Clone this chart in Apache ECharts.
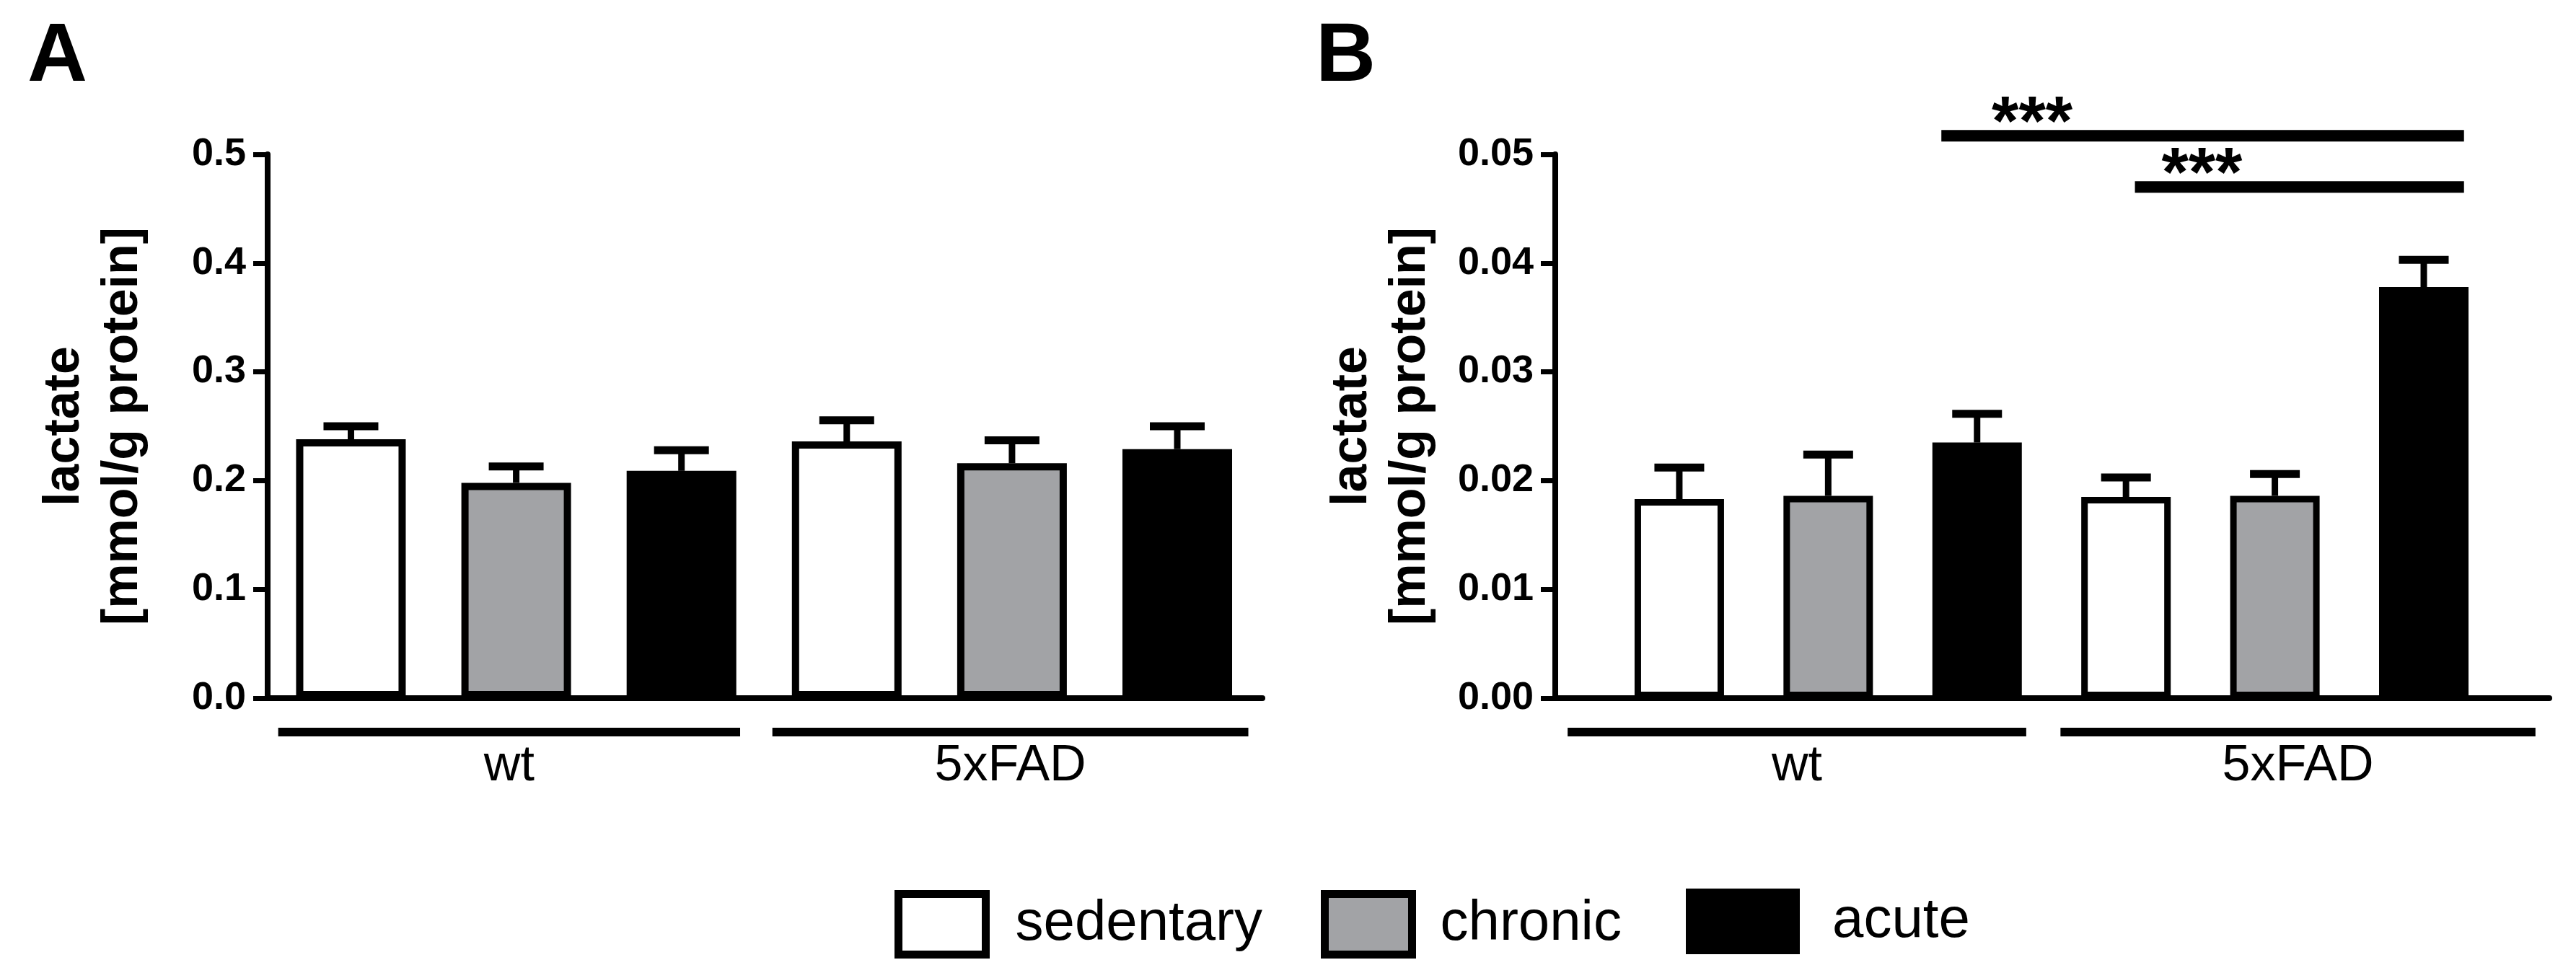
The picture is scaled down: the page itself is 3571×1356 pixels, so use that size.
<!DOCTYPE html>
<html>
<head>
<meta charset="utf-8">
<script src="https://cdn.jsdelivr.net/npm/echarts@6/dist/echarts.min.js"></script>
<style>
html,body{margin:0;padding:0;background:#ffffff;}
#chart{width:3571px;height:1356px;}
</style>
</head>
<body>
<div id="chart"></div>
<script>
// ---------- data ----------
const groups = ['wt', '5xFAD'];
const conditions = ['sedentary', 'chronic', 'acute'];

// Panel A: lactate [mmol/g protein]
const aSedentary    = [0.238, 0.236];
const aSedentarySem = [0.012, 0.0195];
const aChronic      = [0.198, 0.216];
const aChronicSem   = [0.015, 0.021];
const aAcute        = [0.209, 0.229];
const aAcuteSem     = [0.019, 0.021];
const aTickLabels   = ['0.0', '0.1', '0.2', '0.3', '0.4', '0.5'];

// Panel B: lactate [mmol/g protein]
const bSedentary    = [0.0183, 0.0185];
const bSedentarySem = [0.0029, 0.0018];
const bChronic      = [0.0186, 0.0186];
const bChronicSem   = [0.0038, 0.0020];
const bAcute        = [0.0235, 0.0378];
const bAcuteSem     = [0.00265, 0.0025];
const bTickLabels   = ['0.00', '0.01', '0.02', '0.03', '0.04', '0.05'];

// significance annotations in panel B
const sigLabels = ['***', '***'];
const sigLevels = [0.0517, 0.0470];

// ---------- annotation geometry (axis units) ----------
const groupSpansA = [[-0.44, 2.355], [2.55, 5.43]];
const groupSpansB = [[-0.75, 2.33], [2.56, 5.75]];
const sigSpans = [[1.76, 5.27, 2.37], [3.06, 5.27, 3.51]];

// ---------- styling ----------
const FONT = '"Liberation Sans", Arial, Helvetica, sans-serif';
const FILL = { sedentary: '#ffffff', chronic: '#a2a3a6', acute: '#000000' };
const panelMeans = [[aSedentary, aChronic, aAcute], [bSedentary, bChronic, bAcute]];
const panelSems = [[aSedentarySem, aChronicSem, aAcuteSem], [bSedentarySem, bChronicSem, bAcuteSem]];
const barW = [152, 124];
const borderW = [10, 9];
const capW = [76, 69];

const series = [];
[0, 1].forEach(function (p) {
  conditions.forEach(function (cond, c) {
    series.push({
      type: 'bar',
      name: cond,
      xAxisIndex: p,
      yAxisIndex: p,
      barWidth: barW[p],
      barGap: '-100%',
      z: 3,
      itemStyle: { color: FILL[cond], borderColor: '#000', borderWidth: borderW[p] },
      emphasis: { disabled: true },
      data: groups.map(function (g, gi) { return [gi * 3 + c, panelMeans[p][c][gi]]; })
    });
  });
  // error bars (upper only)
  const errData = [];
  conditions.forEach(function (cond, c) {
    groups.forEach(function (g, gi) {
      const m = panelMeans[p][c][gi];
      errData.push([gi * 3 + c, m, m + panelSems[p][c][gi]]);
    });
  });
  series.push({
    type: 'custom',
    xAxisIndex: p,
    yAxisIndex: p,
    z: 4,
    clip: false,
    silent: true,
    encode: { x: 0, y: [1, 2] },
    data: errData,
    renderItem: function (params, api) {
      const x = api.value(0);
      const p0 = api.coord([x, api.value(1)]);
      const p1 = api.coord([x, api.value(2)]);
      return {
        type: 'group',
        children: [
          { type: 'rect', shape: { x: p0[0] - 4.5, y: p1[1], width: 9, height: p0[1] - p1[1] }, style: { fill: '#000' } },
          { type: 'rect', shape: { x: p1[0] - capW[p] / 2, y: p1[1] - 5.5, width: capW[p], height: 11 }, style: { fill: '#000' } }
        ]
      };
    }
  });
  // group lines + group labels under the axis
  const spans = p === 0 ? groupSpansA : groupSpansB;
  series.push({
    type: 'custom',
    xAxisIndex: p,
    yAxisIndex: p,
    z: 4,
    clip: false,
    silent: true,
    encode: { x: [0, 1] },
    data: spans,
    renderItem: function (params, api) {
      const a = api.coord([api.value(0), 0]);
      const b = api.coord([api.value(1), 0]);
      return {
        type: 'group',
        children: [
          { type: 'rect', shape: { x: a[0], y: a[1] + 47 - 6, width: b[0] - a[0], height: 12 }, style: { fill: '#000' } },
          { type: 'text', x: (a[0] + b[0]) / 2, y: a[1] + 95,
            style: { text: groups[params.dataIndex], fontSize: 70, fontFamily: FONT, fill: '#000', align: 'center', verticalAlign: 'middle' } }
        ]
      };
    }
  });
});

// significance bars in panel B
series.push({
  type: 'custom',
  xAxisIndex: 1,
  yAxisIndex: 1,
  z: 4,
  clip: false,
  silent: true,
  encode: { x: [0, 1, 2], y: 3 },
  data: sigSpans.map(function (s, i) { return [s[0], s[1], s[2], sigLevels[i]]; }),
  renderItem: function (params, api) {
    const a = api.coord([api.value(0), api.value(3)]);
    const b = api.coord([api.value(1), api.value(3)]);
    const s = api.coord([api.value(2), api.value(3)]);
    return {
      type: 'group',
      children: [
        { type: 'rect', shape: { x: a[0], y: a[1] - 8, width: b[0] - a[0], height: 16 }, style: { fill: '#000' } },
        { type: 'text', x: s[0], y: s[1] - 15,
          style: { text: sigLabels[params.dataIndex], fontSize: 96, fontWeight: 'bold', fontFamily: FONT, fill: '#000', align: 'center', verticalAlign: 'middle' } }
      ]
    };
  }
});

function yAxis(idx, max, interval, labels) {
  return {
    gridIndex: idx,
    type: 'value',
    min: 0,
    max: max,
    interval: interval,
    axisLine: { show: true, onZero: false, lineStyle: { color: '#000', width: 8 } },
    axisTick: { show: true, length: 20, lineStyle: { color: '#000', width: 7 } },
    splitLine: { show: false },
    axisLabel: {
      fontSize: 54, fontWeight: 'bold', color: '#000', fontFamily: FONT, margin: 30,
      formatter: function (v) { return labels[Math.round(v / interval)]; }
    },
    name: 'lactate\n[mmol/g protein]',
    nameLocation: 'middle',
    nameRotate: 90,
    nameGap: 160,
    nameTextStyle: { fontSize: 70, fontWeight: 'bold', color: '#000', fontFamily: FONT, lineHeight: 81 }
  };
}
function xAxis(idx, min, max) {
  return {
    gridIndex: idx,
    type: 'value',
    min: min,
    max: max,
    axisLine: { show: true, onZero: false, lineStyle: { color: '#000', width: 8 } },
    axisTick: { show: false },
    axisLabel: { show: false },
    splitLine: { show: false }
  };
}
function legendFor(name, left, top, w, h, bw, pad) {
  return {
    data: [{ name: name, itemStyle: { color: FILL[name], borderColor: '#000', borderWidth: bw } }],
    left: left, top: top, padding: 0,
    icon: 'rect',
    itemWidth: w, itemHeight: h,
    selectedMode: false,
    textStyle: { fontSize: 78, fontFamily: FONT, color: '#000', padding: [0, 0, 0, pad] }
  };
}

const option = {
  animation: false,
  backgroundColor: '#ffffff',
  grid: [
    { left: 371, top: 214, width: 1379, height: 754 },
    { left: 2156, top: 214, width: 1378, height: 754 }
  ],
  xAxis: [xAxis(0, -0.504, 5.515), xAxis(1, -0.833, 5.843)],
  yAxis: [yAxis(0, 0.5, 0.1, aTickLabels), yAxis(1, 0.05, 0.01, bTickLabels)],
  legend: [
    legendFor('sedentary', 1240, 1234, 121, 84, 11, 36),
    legendFor('chronic', 1831, 1234, 121, 84, 11, 34),
    legendFor('acute', 2337, 1232, 158, 91, 0, 40)
  ],
  graphic: [
    { type: 'text', x: 38, y: 80, style: { text: 'A', fontSize: 115, fontWeight: 'bold', fontFamily: FONT, fill: '#000', align: 'left', verticalAlign: 'middle' } },
    { type: 'text', x: 1824, y: 80, style: { text: 'B', fontSize: 115, fontWeight: 'bold', fontFamily: FONT, fill: '#000', align: 'left', verticalAlign: 'middle' } }
  ],
  series: series
};

const chart = echarts.init(document.getElementById('chart'), null, { renderer: 'canvas' });
chart.setOption(option);
</script>
</body>
</html>
